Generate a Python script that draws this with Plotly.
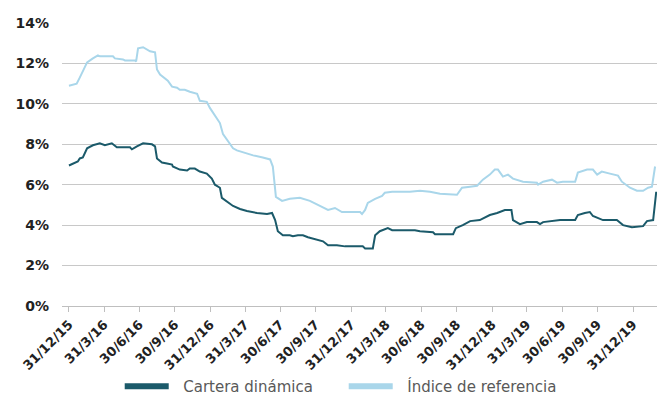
import plotly.graph_objects as go

# Cartera dinámica (dark teal)
cartera_dates = [
    "2015-12-31", "2016-01-16", "2016-01-23", "2016-01-28", "2016-02-05", "2016-02-16",
    "2016-03-02", "2016-03-20", "2016-04-02", "2016-04-20", "2016-05-03", "2016-06-06",
    "2016-06-11", "2016-06-24", "2016-07-10", "2016-08-02", "2016-08-10", "2016-08-15",
    "2016-08-28", "2016-09-10", "2016-09-23", "2016-09-25", "2016-10-13", "2016-11-01",
    "2016-11-08", "2016-11-21", "2016-12-04", "2016-12-22", "2017-01-04", "2017-01-12",
    "2017-01-25", "2017-01-30", "2017-02-12", "2017-02-28", "2017-03-18", "2017-04-05",
    "2017-05-01", "2017-05-27", "2017-06-09", "2017-06-17", "2017-06-24", "2017-07-07",
    "2017-07-25", "2017-08-02", "2017-08-15", "2017-08-28", "2017-09-10", "2017-10-03",
    "2017-10-19", "2017-11-01", "2017-11-24", "2017-12-15", "2018-01-30", "2018-02-05",
    "2018-02-25", "2018-03-03", "2018-03-15", "2018-04-05", "2018-04-16", "2018-06-14",
    "2018-06-27", "2018-07-31", "2018-08-05", "2018-09-21", "2018-09-28", "2018-10-16",
    "2018-11-04", "2018-11-29", "2018-12-25", "2019-01-13", "2019-02-02", "2019-02-19",
    "2019-02-23", "2019-03-13", "2019-03-31", "2019-04-26", "2019-05-04", "2019-05-12",
    "2019-06-25", "2019-08-03", "2019-08-10", "2019-08-28", "2019-09-10", "2019-09-18",
    "2019-10-01", "2019-10-14", "2019-11-19", "2019-12-05", "2019-12-28", "2020-01-26",
    "2020-02-05", "2020-02-21", "2020-02-29",
]
cartera_values = [
    6.95, 7.10, 7.15, 7.30, 7.35, 7.80,
    7.95, 8.05, 7.95, 8.05, 7.85, 7.85,
    7.75, 7.90, 8.05, 8.00, 7.90, 7.30,
    7.10, 7.05, 7.00, 6.90, 6.75, 6.70,
    6.80, 6.80, 6.65, 6.55, 6.30, 6.00,
    5.85, 5.35, 5.15, 4.95, 4.80, 4.70,
    4.60, 4.55, 4.60, 4.25, 3.70, 3.50,
    3.50, 3.45, 3.50, 3.50, 3.40, 3.30,
    3.20, 3.00, 3.00, 2.95, 2.95, 2.85,
    2.85, 3.50, 3.70, 3.85, 3.75, 3.75,
    3.70, 3.65, 3.55, 3.55, 3.85, 4.00,
    4.20, 4.25, 4.50, 4.60, 4.75, 4.75,
    4.25, 4.05, 4.15, 4.15, 4.05, 4.15,
    4.25, 4.25, 4.50, 4.60, 4.65, 4.45,
    4.35, 4.25, 4.25, 4.00, 3.90, 3.95,
    4.20, 4.25, 5.65,
]

# Índice de referencia (light blue)
indice_dates = [
    "2015-12-31", "2016-01-20", "2016-01-28", "2016-02-05", "2016-02-16", "2016-03-02",
    "2016-03-15", "2016-03-20", "2016-04-23", "2016-04-28", "2016-05-19", "2016-05-24",
    "2016-06-19", "2016-06-22", "2016-06-27", "2016-07-10", "2016-07-20", "2016-07-28",
    "2016-08-10", "2016-08-15", "2016-08-23", "2016-09-05", "2016-09-12", "2016-09-23",
    "2016-10-06", "2016-10-13", "2016-10-26", "2016-11-08", "2016-11-27", "2016-12-04",
    "2016-12-22", "2016-12-30", "2017-01-12", "2017-01-25", "2017-02-02", "2017-02-12",
    "2017-02-28", "2017-03-10", "2017-03-26", "2017-04-21", "2017-05-16", "2017-06-04",
    "2017-06-11", "2017-06-17", "2017-06-19", "2017-07-05", "2017-07-25", "2017-08-20",
    "2017-09-15", "2017-10-11", "2017-11-01", "2017-11-19", "2017-12-07", "2018-01-23",
    "2018-01-28", "2018-02-05", "2018-02-12", "2018-03-03", "2018-03-21", "2018-03-28",
    "2018-04-16", "2018-06-01", "2018-06-27", "2018-07-23", "2018-08-18", "2018-10-01",
    "2018-10-14", "2018-11-04", "2018-11-22", "2018-12-07", "2018-12-25", "2019-01-07",
    "2019-01-15", "2019-01-28", "2019-02-10", "2019-02-23", "2019-03-21", "2019-04-26",
    "2019-04-29", "2019-05-12", "2019-06-04", "2019-06-17", "2019-07-02", "2019-08-03",
    "2019-08-10", "2019-09-03", "2019-09-18", "2019-09-29", "2019-10-11", "2019-11-01",
    "2019-11-22", "2019-12-02", "2019-12-23", "2020-01-10", "2020-01-26", "2020-02-08",
    "2020-02-18", "2020-02-26",
]
indice_values = [
    10.90, 11.00, 11.30, 11.60, 12.05, 12.25,
    12.40, 12.35, 12.35, 12.25, 12.20, 12.15,
    12.15, 12.10, 12.75, 12.80, 12.70, 12.60,
    12.55, 11.70, 11.45, 11.25, 11.15, 10.85,
    10.80, 10.70, 10.70, 10.60, 10.50, 10.15,
    10.10, 9.80, 9.40, 9.05, 8.50, 8.25,
    7.80, 7.70, 7.60, 7.45, 7.35, 7.25,
    6.90, 5.90, 5.40, 5.20, 5.30, 5.35,
    5.20, 4.95, 4.75, 4.85, 4.65, 4.65,
    4.55, 4.75, 5.10, 5.30, 5.45, 5.60,
    5.65, 5.65, 5.70, 5.65, 5.55, 5.50,
    5.85, 5.90, 5.95, 6.25, 6.50, 6.75,
    6.75, 6.40, 6.50, 6.30, 6.15, 6.10,
    6.00, 6.15, 6.25, 6.10, 6.15, 6.15,
    6.60, 6.75, 6.75, 6.50, 6.65, 6.55,
    6.45, 6.15, 5.85, 5.70, 5.70, 5.85,
    5.90, 6.90,
]

tick_dates = [
    "2015-12-31", "2016-03-31", "2016-06-30", "2016-09-30", "2016-12-31",
    "2017-03-31", "2017-06-30", "2017-09-30", "2017-12-31", "2018-03-31",
    "2018-06-30", "2018-09-30", "2018-12-31", "2019-03-31", "2019-06-30",
    "2019-09-30", "2019-12-31",
]
tick_labels = [
    "31/12/15", "31/3/16", "30/6/16", "30/9/16", "31/12/16",
    "31/3/17", "30/6/17", "30/9/17", "31/12/17", "31/3/18",
    "30/6/18", "30/9/18", "31/12/18", "31/3/19", "30/6/19",
    "30/9/19", "31/12/19",
]
y_ticks = [0, 2, 4, 6, 8, 10, 12, 14]
y_labels = ["0%", "2%", "4%", "6%", "8%", "10%", "12%", "14%"]

DARK = "#1b5a6a"
LIGHT = "#a9d6ea"
PAD = "\u00a0\u00a0"

fig = go.Figure()
fig.add_trace(go.Scatter(x=indice_dates, y=indice_values, mode="lines",
                         line=dict(color=LIGHT, width=2), showlegend=False,
                         name="Índice de referencia"))
fig.add_trace(go.Scatter(x=cartera_dates, y=cartera_values, mode="lines",
                         line=dict(color=DARK, width=2), showlegend=False,
                         name="Cartera dinámica"))
# legend swatches
fig.add_trace(go.Scatter(x=[None], y=[None], mode="lines",
                         line=dict(color=DARK, width=6), name=PAD + "Cartera dinámica"))
fig.add_trace(go.Scatter(x=[None], y=[None], mode="lines",
                         line=dict(color=LIGHT, width=6), name=PAD + "Índice de referencia"))

fig.update_layout(
    width=661, height=403,
    margin=dict(l=62, r=4, t=23, b=97),
    paper_bgcolor="white", plot_bgcolor="white",
    font=dict(family="DejaVu Sans", color="#222222"),
    legend=dict(orientation="h", x=0.097, xanchor="left",
                yref="container", y=-0.012, yanchor="bottom",
                font=dict(size=15, color="#595959"), itemwidth=44,
                entrywidth=165, entrywidthmode="pixels",
                traceorder="normal"),
    xaxis=dict(
        type="date", automargin=False,
        range=["2015-12-13", "2020-03-02"],
        tickvals=tick_dates, ticktext=tick_labels,
        tickangle=-45,
        tickfont=dict(size=13, color="#222222", family="DejaVu Sans", weight="bold"),
        showgrid=False, showline=True, linecolor="#bfbfbf", linewidth=1,
        ticks="outside", ticklen=5, tickcolor="#bfbfbf",
        zeroline=False,
    ),
    yaxis=dict(
        range=[0, 14], automargin=False,
        tickvals=y_ticks, ticktext=y_labels,
        tickfont=dict(size=14, color="#222222", family="DejaVu Sans", weight="bold"),
        showgrid=True, gridcolor="#c8c8c8", gridwidth=1,
        zeroline=False, showline=False, ticks="", ticklabelstandoff=12,
    ),
)

fig.write_html("out.html", config={"displayModeBar": False},
               post_script="document.body.style.margin='0';")
